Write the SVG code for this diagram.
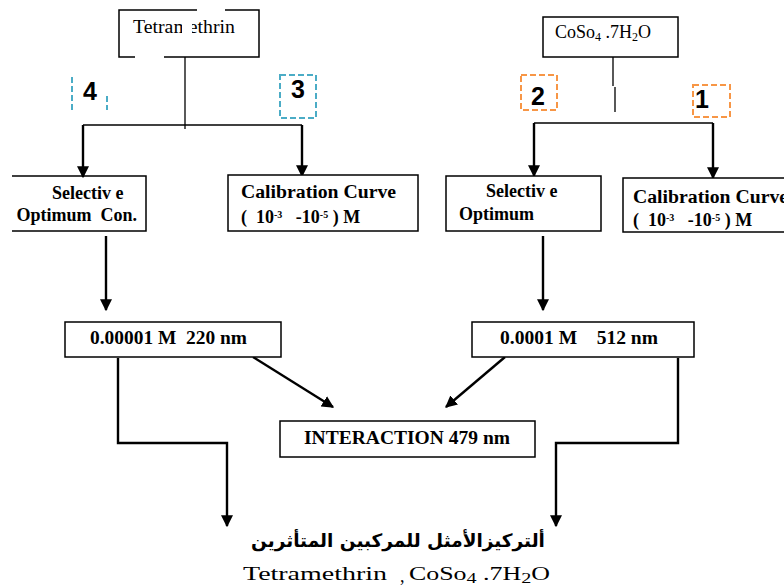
<svg xmlns="http://www.w3.org/2000/svg" width="784" height="586" viewBox="0 0 784 586">
<style>
.box{fill:#fff;stroke:#000;stroke-width:1.5}
.bx{fill:none;stroke:#000;stroke-width:1.5}
.t{font-family:"Liberation Serif","Times New Roman",serif;font-weight:bold;font-size:18px;fill:#000}
.tn{font-family:"Liberation Serif","Times New Roman",serif;font-size:18px;fill:#000}
.num{font-family:"Liberation Sans",Arial,sans-serif;font-weight:bold;font-size:25px;fill:#000}
.ar{font-family:"DejaVu Sans",sans-serif;font-weight:bold;font-size:18.5px;fill:#000}
.thin{fill:none;stroke:#000;stroke-width:1.3}
.thick{fill:none;stroke:#000;stroke-width:2.4}
.teal{fill:none;stroke:#4bacc6;stroke-width:2;stroke-dasharray:6,3}
.orange{fill:none;stroke:#f79646;stroke-width:2;stroke-dasharray:6,3}
</style>
<defs>
<marker id="ah" viewBox="0 0 10 10" refX="9" refY="5" markerWidth="5" markerHeight="5" markerUnits="strokeWidth" orient="auto">
<path d="M0,0 L10,5 L0,10 z" fill="#000"/>
</marker>
<clipPath id="clipL"><rect x="12" y="170" width="140" height="70"/></clipPath>
<clipPath id="clipR"><rect x="600" y="170" width="184" height="70"/></clipPath>
</defs>

<g id="connectors">
<path class="thin" d="M185,57 V129"/>
<path class="thin" d="M83,125 H302"/>
<path class="thick" d="M83,125 V177" marker-end="url(#ah)"/>
<path class="thick" d="M302,125 V176" marker-end="url(#ah)"/>
<path class="thin" d="M613,57 V86 M615,87 V112"/>
<path class="thin" d="M534,123 H713"/>
<path class="thick" d="M534,123 V176" marker-end="url(#ah)"/>
<path class="thick" d="M713,123 V178" marker-end="url(#ah)"/>
<path class="thick" d="M106,236 V310" marker-end="url(#ah)"/>
<path class="thick" d="M543,236 V310" marker-end="url(#ah)"/>
<path class="thick" d="M253,357 L333,407" marker-end="url(#ah)"/>
<path class="thick" d="M505,357 L446,407" marker-end="url(#ah)"/>
<path class="thick" d="M118,358 V443 H227 V526" marker-end="url(#ah)"/>
<path class="thick" d="M678,358 V443 H556 V526" marker-end="url(#ah)"/>
</g>

<g id="tetramethrin">
<path class="bx" d="M197,10 H119 V57 H135 M164,57 H259 V10 H225"/>
<text class="tn" x="133" y="33" textLength="102" lengthAdjust="spacingAndGlyphs">Tetramethrin</text>
<rect x="182" y="12" width="10" height="22" fill="#fff"/>
</g>

<g id="coso4">
<rect class="box" x="543" y="17" width="135" height="40"/>
<text class="tn" x="555" y="38">CoSo<tspan font-size="12" dy="3">4</tspan><tspan dy="-3"> .7H</tspan><tspan font-size="12" dy="3">2</tspan><tspan dy="-3">O</tspan></text>
</g>

<g id="label4">
<path class="teal" d="M72,77 V110 M107,96 V110"/>
<text class="num" x="90" y="100" text-anchor="middle">4</text>
</g>
<g id="label3">
<rect class="teal" x="280" y="75" width="36" height="43"/>
<text class="num" x="298" y="98" text-anchor="middle">3</text>
</g>
<g id="label2">
<rect class="orange" x="521" y="75" width="36" height="35"/>
<text class="num" x="538" y="105" text-anchor="middle">2</text>
</g>
<g id="label1">
<rect class="orange" x="693" y="85" width="37" height="32"/>
<text class="num" x="702" y="108" text-anchor="middle">1</text>
</g>

<g id="selective-left">
<path class="bx" d="M12,176 H146 V231 H12"/>
<g clip-path="url(#clipL)">
<text class="t" x="52" y="199">Selectiv e</text>
<text class="t" x="137" y="221" text-anchor="end" xml:space="preserve">Optimum  Con.</text>
</g>
</g>

<g id="calibration-left">
<rect class="box" x="228" y="175" width="190" height="56"/>
<text class="t" x="241" y="198" textLength="155" lengthAdjust="spacingAndGlyphs">Calibration Curve</text>
<text class="t" x="241" y="223" xml:space="preserve">(  10<tspan font-size="10" dy="-5">-3</tspan><tspan dy="5">   -10</tspan><tspan font-size="10" dy="-5">-5</tspan><tspan dy="5"> ) M</tspan></text>
</g>

<g id="selective-right">
<rect class="box" x="446" y="176" width="155" height="55"/>
<text class="t" x="486" y="197">Selectiv e</text>
<text class="t" x="459" y="220">Optimum</text>
</g>

<g id="calibration-right">
<g clip-path="url(#clipR)">
<rect class="box" x="623" y="178" width="180" height="54"/>
<text class="t" x="633" y="203" textLength="155" lengthAdjust="spacingAndGlyphs">Calibration Curve</text>
<text class="t" x="633" y="226" xml:space="preserve">(  10<tspan font-size="10" dy="-5">-3</tspan><tspan dy="5">   -10</tspan><tspan font-size="10" dy="-5">-5</tspan><tspan dy="5"> ) M</tspan></text>
</g>
</g>

<g id="conc-left">
<rect class="box" x="65" y="322" width="216" height="35"/>
<text class="t" x="90" y="344" textLength="157" lengthAdjust="spacingAndGlyphs" xml:space="preserve">0.00001 M  220 nm</text>
</g>

<g id="conc-right">
<rect class="box" x="472" y="322" width="222" height="35"/>
<text class="t" x="500" y="344" textLength="158" lengthAdjust="spacingAndGlyphs" xml:space="preserve">0.0001 M    512 nm</text>
</g>

<g id="interaction">
<rect class="box" x="280" y="421" width="255" height="36"/>
<text class="t" x="304" y="444" textLength="206" lengthAdjust="spacingAndGlyphs">INTERACTION 479 nm</text>
</g>

<g id="result">
<text class="ar" x="398" y="547" text-anchor="middle" direction="rtl">ألتركيزالأمثل للمركبين المتأثرين</text>
<text class="tn" x="243" y="580" font-size="20" textLength="144" lengthAdjust="spacingAndGlyphs">Tetramethrin</text>
<text class="tn" x="400" y="582" font-size="20">,</text>
<text class="tn" x="409" y="580" font-size="20" textLength="141" lengthAdjust="spacingAndGlyphs">CoSo<tspan font-size="14" dy="3">4</tspan><tspan dy="-3"> .7H</tspan><tspan font-size="14" dy="3">2</tspan><tspan dy="-3">O</tspan></text>
</g>
</svg>
